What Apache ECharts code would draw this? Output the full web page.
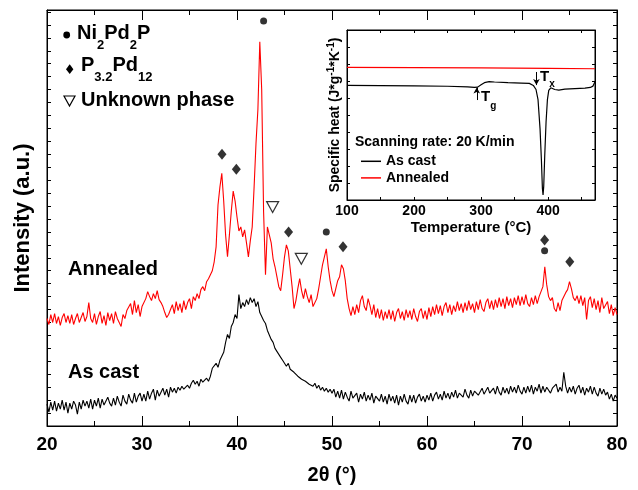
<!DOCTYPE html>
<html>
<head>
<meta charset="utf-8">
<script src="https://cdn.jsdelivr.net/npm/echarts@6/dist/echarts.min.js"></script>
<style>
html,body{margin:0;padding:0;background:#fff;}
#chart{width:638px;height:490px;}
</style>
</head>
<body>
<div id="chart"></div>
<script>
// ---------- XRD data (2θ grid, 0.2° step) ----------
const twoTheta = Array.from({length: 301}, (_, i) => Math.round((20 + i * 0.2) * 10) / 10);

const annealedXRD = [
  108,102,112,104,113,103,110,101,109,113,104,111,103,112,102,108,113,104,109,114,105,
  110,124,108,
  104,113,102,110,115,103,111,101,114,106,113,103,115,108,104,100,112,108,116,
  115,123,112,126,114,122,110,120,
  122,128,135,130,126,133,128,136,127,124,120,
  114,109,112,117,
  122,113,125,116,123,114,126,117,124,128,118,130,
  126,133,128,137,140,136,145,148,152,156,165,180,222,
  240,254,226,192,170,192,216,236,
  226,210,196,200,190,197,184,170,186,200,
  240,284,318,386,338,215,152,200,200,184,
  168,160,150,140,136,152,170,182,176,158,
  140,118,126,138,148,136,128,138,130,124,132,120,118,128,138,150,162,170,178,160,146,136,130,138,146,150,
  162,158,146,128,118,
  111,120,112,122,114,
  126,131,120,116,128,
  121,112,122,109,118,
  108,117,106,115,108,
  117,107,116,105,114,
  118,108,115,106,117,
  109,116,107,118,110,
  105,115,118,108,116,
  107,119,110,120,112,
  122,113,121,111,120,
  124,114,122,112,121,
  115,125,116,123,114,
  124,116,126,117,123,
  114,125,117,127,118,
  115,124,128,118,126,
  117,127,119,129,120,
  128,118,130,121,128,
  119,129,122,131,121,
  130,122,132,123,120,
  129,122,131,123,130,
  132,140,160,142,130,
  126,129,118,115,124,
  116,126,128,134,137,
  145,138,129,126,131,
  123,131,121,129,107,
  126,130,119,128,117,
  126,114,129,118,116,
  125,113,122,111,119,
  112
];

const asCastXRD = [
  22,14,24,16,25,15,23,17,26,16,24,13,23,17,25,21,12,24,17,26,20,
  25,18,27,17,26,20,28,18,27,21,19,29,23,20,28,
  21,30,24,20,31,25,22,32,26,23,33,24,30,33,25,
  32,25,35,27,33,37,26,36,30,28,38,31,37,29,39,
  34,38,33,39,36,40,37,35,41,38,43,46,
  42,45,40,47,44,43,48,45,50,58,
  56,63,59,66,64,74,84,92,
  88,100,104,112,108,132,118,124,120,
  127,122,129,124,128,120,125,114,
  116,106,103,96,94,87,84,78,77,72,69,66,64,
  60,63,57,59,54,56,50,52,47,49,
  45,47,42,44,40,43,38,41,36,39,35,38,34,37,33,
  37,29,35,28,36,27,34,29,25,35,28,26,33,24,32,27,34,25,31,26,33,23,30,32,25,
  32,24,30,22,32,25,30,23,31,21,30,24,32,25,22,31,24,31,23,29,32,25,30,24,31,
  26,33,25,31,34,27,32,26,35,28,33,27,34,29,36,28,33,35,29,37,31,28,36,30,35,
  37,31,29,38,32,30,39,33,31,38,32,40,34,31,39,33,38,32,40,34,39,33,41,35,32,
  39,33,40,34,41,32,39,35,42,33,40,34,39,41,33,38,40,42,34,39,35,54,40,33,39,
  34,40,32,38,41,33,39,31,38,34,40,32,39,33,30,38,32,37,31,34,27,32,25,31,28
];

// phase markers [2θ, intensity]
const ni2pd2pPeaks = [[42.8, 407], [49.4, 195], [72.38, 176]];
const p32pd12Peaks = [[38.42, 273], [39.93, 258], [45.43, 195], [51.16, 180], [72.38, 187], [75.03, 165]];
const unknownPeaks = [[43.75, 220], [46.77, 168]];

// ---------- DSC inset data ----------
const dscTempAsCast = [100,150,200,250,280,290,295,300,305,312,320,340,360,372,378,382,385,388,390,391.5,392.5,393.5,395,397,399,401,404,410,416,425,440,455,463,467,470];
const dscAsCast     = [6.74,6.73,6.71,6.69,6.66,6.62,6.64,6.78,6.9,6.96,6.94,6.9,6.88,6.86,6.74,6.5,5.9,4.2,2.4,0.7,0.3,0.8,2.6,4.6,5.9,6.45,6.6,6.5,6.46,6.52,6.55,6.58,6.62,6.7,6.96];
const dscTempAnnealed = [100, 200, 300, 400, 470];
const dscAnnealed     = [7.8, 7.79, 7.77, 7.74, 7.72];

const xTickLabels = [20, 30, 40, 50, 60, 70, 80];
const insetTickLabels = [100, 200, 300, 400];

if (annealedXRD.length !== twoTheta.length || asCastXRD.length !== twoTheta.length) {
  console.error('length mismatch', annealedXRD.length, asCastXRD.length);
}

const zip = (xs, ys) => xs.map((x, i) => [x, ys[i]]);
const FONT = 'Liberation Sans';
const bold = (size) => ({fontFamily: FONT, fontWeight: 'bold', fontSize: size, color: '#000'});

const chart = echarts.init(document.getElementById('chart'), null, {renderer: 'canvas'});

const mainTicks = {
  axisLine: {show: true, onZero: false, lineStyle: {color: '#000', width: 1}},
  splitLine: {show: false}
};

const option = {
  backgroundColor: '#fff',
  animation: false,
  textStyle: {fontFamily: FONT},
  grid: [
    {left: 47, top: 10, width: 570, height: 418, show: true, borderColor: '#000', borderWidth: 1, backgroundColor: 'transparent'},
    {left: 347, top: 30, width: 248, height: 170, show: true, borderColor: '#000', borderWidth: 1, backgroundColor: 'transparent'}
  ],
  legend: {
    data: ['As cast', 'Annealed'],
    orient: 'vertical', left: 361, top: 153, padding: 0,
    itemWidth: 20, itemHeight: 1.5, itemGap: 0, icon: 'rect',
    selectedMode: false,
    textStyle: Object.assign(bold(14), {lineHeight: 16.6})
  },
  xAxis: [
    Object.assign({
      gridIndex: 0, type: 'value', min: 20, max: 80, interval: 10, position: 'bottom',
      axisTick: {show: true, inside: true, length: 10, lineStyle: {color: '#000'}},
      minorTick: {show: true, splitNumber: 2, length: 5, lineStyle: {color: '#000'}},
      axisLabel: Object.assign(bold(19), {margin: 9, formatter: v => xTickLabels.includes(v) ? String(v) : ''}),
      name: '2θ (°)', nameLocation: 'middle', nameGap: 39,
      nameTextStyle: bold(20)
    }, mainTicks),
    Object.assign({
      gridIndex: 0, type: 'value', min: 20, max: 80, interval: 10, position: 'top',
      axisTick: {show: true, inside: true, length: 10, lineStyle: {color: '#000'}},
      minorTick: {show: true, splitNumber: 2, length: 5, lineStyle: {color: '#000'}},
      axisLabel: {show: false}
    }, mainTicks),
    Object.assign({
      gridIndex: 1, type: 'value', min: 100, max: 470, interval: 50, position: 'bottom',
      axisTick: {show: true, inside: true, length: 3, lineStyle: {color: '#000'}},
      axisLabel: Object.assign(bold(14), {margin: 4, formatter: v => insetTickLabels.includes(v) ? String(v) : ''}),
      name: 'Temperature (°C)', nameLocation: 'middle', nameGap: 20,
      nameTextStyle: bold(15)
    }, mainTicks),
    Object.assign({
      gridIndex: 1, type: 'value', min: 100, max: 470, interval: 50, position: 'top',
      axisTick: {show: true, inside: true, length: 3, lineStyle: {color: '#000'}},
      axisLabel: {show: false}
    }, mainTicks)
  ],
  yAxis: [
    Object.assign({
      gridIndex: 0, type: 'value', min: 0, max: 418, interval: 13, position: 'left',
      axisTick: {show: true, inside: true, length: 4, lineStyle: {color: '#000'}},
      axisLabel: {show: false},
      name: 'Intensity (a.u.)', nameLocation: 'middle', nameGap: 13,
      nameTextStyle: bold(22)
    }, mainTicks),
    Object.assign({
      gridIndex: 0, type: 'value', min: 0, max: 418, interval: 13, position: 'right',
      axisTick: {show: true, inside: true, length: 4, lineStyle: {color: '#000'}},
      axisLabel: {show: false}
    }, mainTicks),
    Object.assign({
      gridIndex: 1, type: 'value', min: 0, max: 10, interval: 1, position: 'left',
      axisTick: {show: true, inside: true, length: 3, lineStyle: {color: '#000'}},
      axisLabel: {show: false},
      name: '{a|Specific heat (J*g}{b|-1}{a|*K}{b|-1}{a|)}',
      nameLocation: 'middle', nameGap: 5,
      nameTextStyle: {
        rich: {
          a: {fontFamily: FONT, fontWeight: 'bold', fontSize: 14, color: '#000', lineHeight: 16, verticalAlign: 'bottom'},
          b: {fontFamily: FONT, fontWeight: 'bold', fontSize: 10, color: '#000', lineHeight: 10, padding: [0, 0, 8, 0], verticalAlign: 'top'}
        }
      }
    }, mainTicks),
    Object.assign({
      gridIndex: 1, type: 'value', min: 0, max: 10, interval: 1, position: 'right',
      axisTick: {show: true, inside: true, length: 3, lineStyle: {color: '#000'}},
      axisLabel: {show: false}
    }, mainTicks)
  ],
  series: [
    {
      name: 'Annealed XRD', type: 'line', xAxisIndex: 0, yAxisIndex: 0,
      data: zip(twoTheta, annealedXRD), showSymbol: false, symbol: 'none',
      lineStyle: {color: '#ff0000', width: 1.1}, itemStyle: {color: '#ff0000'}, z: 3
    },
    {
      name: 'As cast XRD', type: 'line', xAxisIndex: 0, yAxisIndex: 0,
      data: zip(twoTheta, asCastXRD), showSymbol: false, symbol: 'none',
      lineStyle: {color: '#000', width: 1.1}, itemStyle: {color: '#000'}, z: 3
    },
    {
      name: 'Ni2Pd2P', type: 'scatter', xAxisIndex: 0, yAxisIndex: 0,
      data: ni2pd2pPeaks, symbol: 'circle', symbolSize: 7,
      itemStyle: {color: '#000'}, z: 5
    },
    {
      name: 'P3.2Pd12', type: 'scatter', xAxisIndex: 0, yAxisIndex: 0,
      data: p32pd12Peaks, symbol: 'diamond', symbolSize: [9, 11],
      itemStyle: {color: '#000'}, z: 5
    },
    {
      name: 'Unknown phase', type: 'scatter', xAxisIndex: 0, yAxisIndex: 0,
      data: unknownPeaks, symbol: 'path://M0,0 L12,0 L6,11 Z', symbolSize: [12, 11],
      itemStyle: {color: '#fff', borderColor: '#000', borderWidth: 1.2}, z: 5
    },
    {
      name: 'As cast', type: 'line', xAxisIndex: 2, yAxisIndex: 2,
      data: zip(dscTempAsCast, dscAsCast), showSymbol: false, symbol: 'none',
      lineStyle: {color: '#000', width: 1.2}, itemStyle: {color: '#000'},
      markLine: {
        silent: true, symbol: ['none', 'arrow'], symbolSize: [5, 6],
        lineStyle: {color: '#000', width: 1, type: 'solid'},
        label: {show: false},
        data: [
          [{coord: [293.6, 5.88]}, {coord: [293.6, 6.62]}],
          [{coord: [382.6, 7.53]}, {coord: [382.6, 6.76]}]
        ]
      }
    },
    {
      name: 'Annealed', type: 'line', xAxisIndex: 2, yAxisIndex: 2,
      data: zip(dscTempAnnealed, dscAnnealed), showSymbol: false, symbol: 'none',
      lineStyle: {color: '#ff0000', width: 1.2}, itemStyle: {color: '#ff0000'}
    }
  ],
  graphic: [
    {type: 'circle', shape: {cx: 66.7, cy: 35, r: 3.4}, style: {fill: '#000'}},
    {type: 'polygon', shape: {points: [[69.7, 64.3], [73.4, 69.2], [69.7, 74], [66, 69.2]]}, style: {fill: '#000'}},
    {type: 'polygon', shape: {points: [[64, 96], [75, 96], [69.5, 106]]}, style: {fill: '#fff', stroke: '#000', lineWidth: 1.2}},
    {
      type: 'text', x: 77, y: 23,
      style: {
        text: '{m|Ni}{s|2}{m|Pd}{s|2}{m|P}', verticalAlign: 'top', align: 'left',
        rich: {
          m: {fontFamily: FONT, fontWeight: 'bold', fontSize: 20, fill: '#000', lineHeight: 22, verticalAlign: 'top'},
          s: {fontFamily: FONT, fontWeight: 'bold', fontSize: 13, fill: '#000', lineHeight: 14, padding: [16, 0, 0, 0], verticalAlign: 'top'}
        }
      }
    },
    {
      type: 'text', x: 81, y: 55,
      style: {
        text: '{m|P}{s|3.2}{m|Pd}{s|12}', verticalAlign: 'top', align: 'left',
        rich: {
          m: {fontFamily: FONT, fontWeight: 'bold', fontSize: 20, fill: '#000', lineHeight: 22, verticalAlign: 'top'},
          s: {fontFamily: FONT, fontWeight: 'bold', fontSize: 13, fill: '#000', lineHeight: 14, padding: [16, 0, 0, 0], verticalAlign: 'top'}
        }
      }
    },
    {
      type: 'text', x: 81, y: 100,
      style: {text: 'Unknown phase', fontFamily: FONT, fontWeight: 'bold', fontSize: 20, fill: '#000', verticalAlign: 'middle', align: 'left'}
    },
    {type: 'text', x: 68, y: 269, style: {text: 'Annealed', fontFamily: FONT, fontWeight: 'bold', fontSize: 20, fill: '#000', verticalAlign: 'middle'}},
    {type: 'text', x: 68, y: 372, style: {text: 'As cast', fontFamily: FONT, fontWeight: 'bold', fontSize: 20, fill: '#000', verticalAlign: 'middle'}},
    {type: 'text', x: 355, y: 142, style: {text: 'Scanning rate: 20 K/min', fontFamily: FONT, fontWeight: 'bold', fontSize: 14, fill: '#000', verticalAlign: 'middle'}},
    {
      type: 'text', x: 481, y: 89,
      style: {
        text: '{m|T}{s|g}', verticalAlign: 'top',
        rich: {
          m: {fontFamily: FONT, fontWeight: 'bold', fontSize: 15, fill: '#000', lineHeight: 16, verticalAlign: 'top'},
          s: {fontFamily: FONT, fontWeight: 'bold', fontSize: 10, fill: '#000', lineHeight: 10, padding: [12, 0, 0, 0], verticalAlign: 'top'}
        }
      }
    },
    {
      type: 'text', x: 540, y: 69,
      style: {
        text: '{m|T}{s|x}', verticalAlign: 'top',
        rich: {
          m: {fontFamily: FONT, fontWeight: 'bold', fontSize: 15, fill: '#000', lineHeight: 16, verticalAlign: 'top'},
          s: {fontFamily: FONT, fontWeight: 'bold', fontSize: 10, fill: '#000', lineHeight: 10, padding: [10, 0, 0, 0], verticalAlign: 'top'}
        }
      }
    }
  ]
};

chart.setOption(option);
</script>
</body>
</html>
